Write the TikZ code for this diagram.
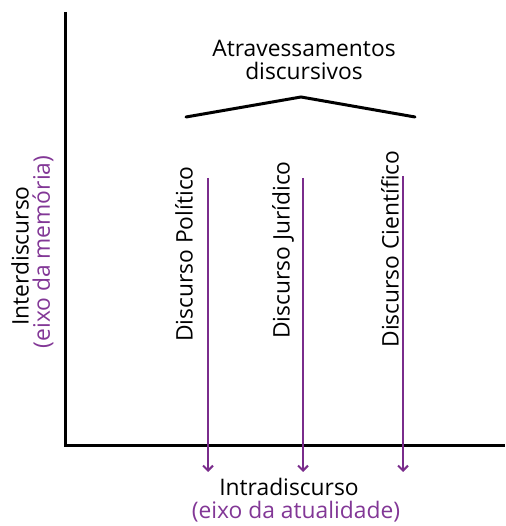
\documentclass[tikz,border=0pt]{standalone}
\usepackage{fontspec}
\setmainfont{Open Sans}
\usetikzlibrary{arrows.meta}
\definecolor{vio}{RGB}{122,44,140}
\definecolor{viotext}{RGB}{130,55,150}
\tikzset{
  axis/.style={line width=3pt, line join=miter},
  roof/.style={line width=3pt, line cap=round},
  varrow/.style={draw=vio, line width=2.2pt, -{Straight Barb[length=5pt,width=10pt,line width=2pt]}},
  lbl/.style={font=\fontsize{22.8}{19}\selectfont, inner sep=0pt, align=center},
  vlbl/.style={lbl, rotate=90}
}
\begin{document}
\begin{tikzpicture}[x=1pt,y=1pt]
\useasboundingbox (0,0) rectangle (505,526);
% axes
\coordinate (top) at (65,514);
\coordinate (origin) at (65,80);
\coordinate (right) at (505,80);
\draw[axis] (top) -- (origin) -- (right);
% roof
\coordinate (rl) at (186,409);
\coordinate (rp) at (301,429);
\coordinate (rr) at (415,409);
\draw[roof] (rl) -- (rp) -- (rr);
\node[lbl, font=\fontsize{22.8}{22.5}\selectfont] (title) at (304,466) {Atravessamentos\\discursivos};
% vertical discourse labels
\node[vlbl] (pol) at (184,272) {Discurso Político};
\node[vlbl] (jur) at (283,276) {Discurso Jurídico};
\node[vlbl] (cie) at (390,277) {Discurso Científico};
% arrows
\coordinate (a1s) at (208,348); \coordinate (a1e) at (208,54);
\coordinate (a2s) at (303,348); \coordinate (a2e) at (303,54);
\coordinate (a3s) at (403,350); \coordinate (a3e) at (403,54);
\draw[varrow] (a1s) -- (a1e);
\draw[varrow] (a2s) -- (a2e);
\draw[varrow] (a3s) -- (a3e);
% axis labels
\node[vlbl] (inter) at (20,270) {Interdiscurso};
\node[vlbl, text=viotext] (mem) at (43,274) {(eixo da memória)};
\node[lbl] (intra) at (289,39) {Intradiscurso};
\node[lbl, text=viotext] (atual) at (296,14) {(eixo da atualidade)};
\end{tikzpicture}
\end{document}
